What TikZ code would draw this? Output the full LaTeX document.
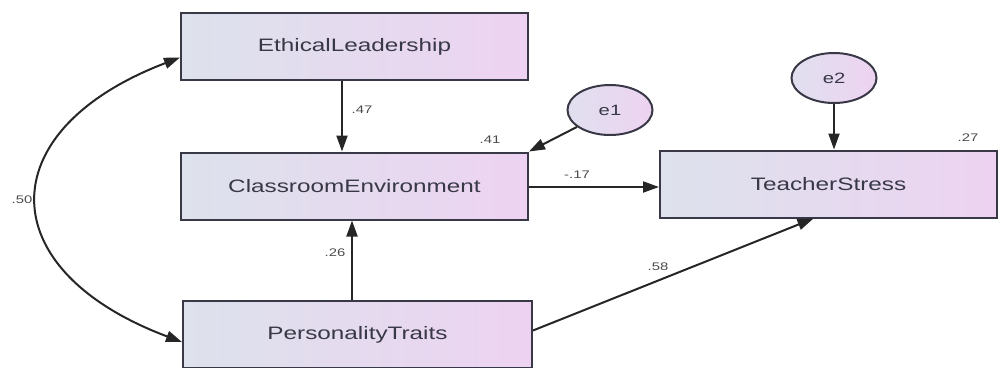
\documentclass[tikz,border=0pt]{standalone}
\usepackage{fontspec}
\setmainfont[FakeStretch=1.35]{Liberation Sans}
\usetikzlibrary{arrows.meta,shapes.geometric}
\definecolor{boxleft}{HTML}{DDE2EC}
\definecolor{boxright}{HTML}{EDD3F1}
\definecolor{errfill}{HTML}{E6DCF3}
\definecolor{inkgray}{HTML}{383846}
\definecolor{labelgray}{HTML}{4A4A4A}

\begin{document}
\begin{tikzpicture}[x=1pt,y=1pt,
  varbox/.style={draw=inkgray, line width=2pt, left color=boxleft, right color=boxright,
    minimum width=347pt, minimum height=67pt, inner sep=0pt, text=inkgray,
    font=\fontsize{18}{20}\selectfont},
  errvar/.style={ellipse, draw=inkgray, line width=2pt, left color=boxleft!60!errfill,
    right color=boxright, minimum width=85pt, minimum height=50pt, inner sep=0pt,
    text=inkgray, font=\fontsize{15}{16}\selectfont},
  coef/.style={text=labelgray, inner sep=0pt, font=\fontsize{11}{12}\selectfont},
  regarrow/.style={draw=black!85, line width=2pt, -{Triangle[length=16pt,width=11pt]}},
  covarrow/.style={draw=black!85, line width=2pt,
    {Triangle[length=16pt,width=11pt]}-{Triangle[length=16pt,width=11pt]}}]
\useasboundingbox (0,-367) rectangle (998,0);
% observed variables:
\node[varbox] (ethical) at (354.5,-46.5) {EthicalLeadership};
\node[varbox] (classroom) at (354.5,-186) {ClassroomEnvironment};
\node[varbox, minimum width=337pt] (stress) at (828.5,-184) {TeacherStress};
\node[varbox, minimum width=349pt] (traits) at (357.5,-334.5) {PersonalityTraits};
% error terms:
\node[errvar] (e1) at (610,-110) {e1};
\node[errvar] (e2) at (834,-78) {e2};
% paths:
\draw[regarrow] ([xshift=-12.5pt]ethical.south) -- ([xshift=-12.5pt]classroom.north);
\draw[regarrow] ([xshift=-5.5pt]traits.north) -- ([xshift=-5.5pt]traits.north |- classroom.south);
\draw[regarrow] (e1) -- (classroom.north east);
\draw[regarrow] ([yshift=-1pt]classroom.east) -- ([yshift=-1pt]classroom.east -| stress.west);
\draw[regarrow] (e2) -- (e2 |- stress.north);
\draw[regarrow] ([yshift=4pt]traits.east) -- ([xshift=-15pt]stress.south);
\draw[covarrow] ([yshift=-11pt]ethical.west) .. controls (-10,-130) and (-10,-270) .. ([yshift=-7.5pt]traits.west);
% estimates:
\node[coef] (b47) at (362,-110) {.47};
\node[coef] (r41) at (490,-140) {.41};
\node[coef] (b17) at (577,-175) {-.17};
\node[coef] (r27) at (968,-138) {.27};
\node[coef] (b26) at (335,-253) {.26};
\node[coef] (b58) at (658,-267) {.58};
\node[coef] (c50) at (22,-200) {.50};
\end{tikzpicture}
\end{document}
